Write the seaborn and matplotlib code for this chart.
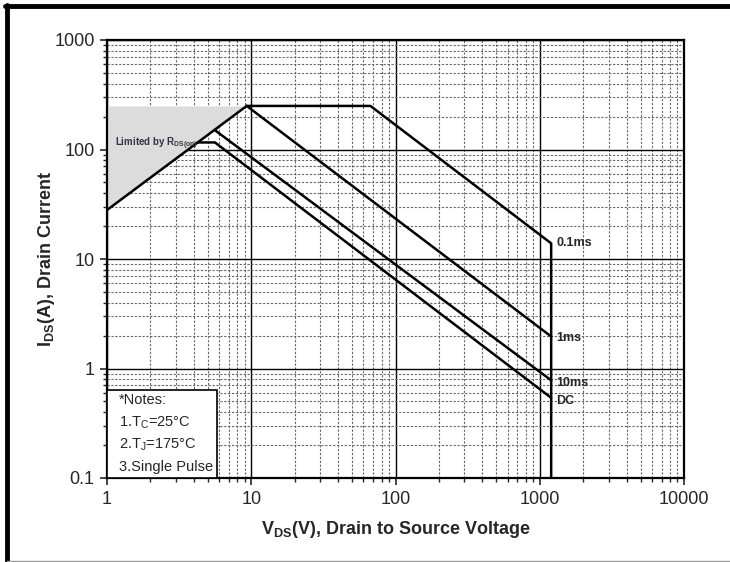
import matplotlib
matplotlib.use("Agg")
import matplotlib.pyplot as plt
import matplotlib.ticker as mticker
from matplotlib.lines import Line2D
import seaborn as sns

# safe operating area, V in volts, I in amps
rds_v = [1, 9.3]
rds_i = [28, 250]
t01_v = [9.3, 67, 1200, 1200]
t01_i = [250, 250, 13.9, 0.1]
t1_v = [9.3, 1200]
t1_i = [250, 1.96]
t10_v = [5.6, 1200]
t10_i = [150, 0.78]
dc_v = [4.3, 5.6, 1200]
dc_i = [116, 116, 0.54]

curve_names = ["0.1ms", "1ms", "10ms", "DC"]
curve_label_i = [13.9, 1.9, 0.74, 0.5]
notes = ["*Notes:", "1.T$_{\\mathregular{C}}$=25\u00b0C",
         "2.T$_{\\mathregular{J}}$=175\u00b0C", "3.Single Pulse"]
x_ticks = [1, 10, 100, 1000, 10000]
y_ticks = [0.1, 1, 10, 100, 1000]

sns.set_style("ticks")
plt.rcParams["font.family"] = ["Liberation Sans", "DejaVu Sans"]
plt.rcParams["mathtext.fontset"] = "custom"
plt.rcParams["mathtext.rm"] = "Liberation Sans"
plt.rcParams["mathtext.bf"] = "Liberation Sans:bold"

fig = plt.figure(figsize=(7.3, 5.62), dpi=100)
ax = fig.add_axes([107 / 730, 1 - 478 / 562, 577 / 730, 438 / 562])

ax.fill_between(rds_v, rds_i, 250, color="#dcdcdc", lw=0, zorder=1)

for xs, ys in [(rds_v, rds_i), (t01_v, t01_i), (t1_v, t1_i), (t10_v, t10_i), (dc_v, dc_i)]:
    sns.lineplot(x=xs, y=ys, sort=False, estimator=None, color="black", lw=1.8, ax=ax, zorder=3)

ax.set_xscale("log")
ax.set_yscale("log")
ax.set_xlim(1, 10000)
ax.set_ylim(0.1, 1000)
ax.xaxis.set_major_locator(mticker.FixedLocator(x_ticks))
ax.yaxis.set_major_locator(mticker.FixedLocator(y_ticks))
ax.xaxis.set_major_formatter(mticker.FuncFormatter(lambda v, p: f"{v:g}"))
ax.yaxis.set_major_formatter(mticker.FuncFormatter(lambda v, p: f"{v:g}"))
ax.xaxis.set_minor_locator(mticker.LogLocator(subs=range(2, 10)))
ax.yaxis.set_minor_locator(mticker.LogLocator(subs=range(2, 10)))
ax.xaxis.set_minor_formatter(mticker.NullFormatter())
ax.yaxis.set_minor_formatter(mticker.NullFormatter())

ax.grid(which="major", color="black", lw=1.0, ls="-", zorder=0)
ax.grid(which="minor", color="#666666", lw=0.8, ls=(0, (2, 1.5)), zorder=0)
ax.set_axisbelow(True)
ax.tick_params(which="major", direction="out", length=5, width=1.2, labelsize=13, pad=4)
ax.tick_params(which="minor", direction="out", length=3, width=1)
for s in ax.spines.values():
    s.set_linewidth(1.6)
    s.set_color("black")

ax.set_xlabel("V$_{\\mathregular{DS}}$(V), Drain to Source Voltage", fontsize=13,
              fontweight="bold", labelpad=8)
ax.set_ylabel("I$_{\\mathregular{DS}}$(A), Drain Current", fontsize=13,
              fontweight="bold", labelpad=-2)

for name, yi in zip(curve_names, curve_label_i):
    ax.text(1300, yi, name, fontsize=9, fontweight="bold", va="center", ha="left", zorder=4)

ax.text(1.13, 113, "Limited by R$_{\\mathregular{DS(on)}}$", fontsize=7, fontweight="bold",
        color="#333344", va="center", ha="left", zorder=4)

ax.add_patch(plt.Rectangle((0, 0), 110 / 577, 88 / 438, transform=ax.transAxes,
                           facecolor="white", edgecolor="black", lw=1.2, zorder=5))
for k, line in enumerate(notes):
    ax.text(12 / 577, (78 - k * 22.5) / 438, line, transform=ax.transAxes, fontsize=10.5,
            va="center", ha="left", zorder=6)

# outer frame of the datasheet picture
fig.add_artist(Line2D([7 / 730, 7 / 730], [0, 1 - 5 / 562], color="black", lw=3.5))
fig.add_artist(Line2D([5 / 730, 1], [1 - 6 / 562, 1 - 6 / 562], color="black", lw=3.5))
fig.add_artist(Line2D([7 / 730, 1], [1 / 562, 1 / 562], color="#999999", lw=1))

fig.savefig("out.png", dpi=100)
plt.close(fig)
